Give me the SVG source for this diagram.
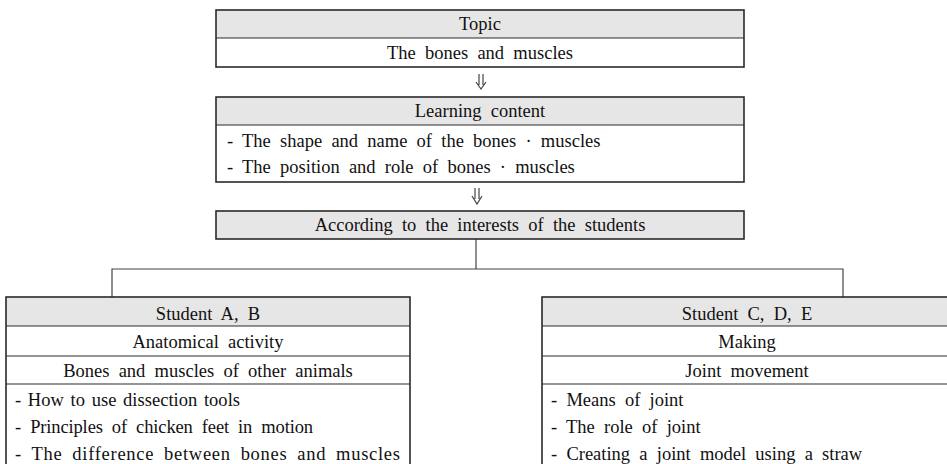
<svg xmlns="http://www.w3.org/2000/svg" width="947" height="464" viewBox="0 0 947 464">
<style>
  .t { font-family: "Liberation Serif", "Times New Roman", serif; font-size: 18.5px; fill: #111; word-spacing: 4.6px; }
  .c { text-anchor: middle; }
  .hd { fill: #e6e6e6; stroke: none; }
  .box { fill: none; stroke: #2a2a2a; stroke-width: 1.6; }
  .div { stroke: #2a2a2a; stroke-width: 1.2; }
  .conn { fill: none; stroke: #444; stroke-width: 1.2; }
</style>
<rect width="947" height="464" fill="#fff"/>
<g id="connectors">
  <path class="conn" d="M479,74 V85 M483,74 V85 M476,82 L481,89 L486,82"/>
  <path class="conn" d="M475,188 V199 M479,188 V199 M472,196 L477,204 L482,196"/>
  <path class="conn" d="M476,239 V269 M112,297 V269 H843 V297"/>
</g>
<g id="topic">
  <rect class="hd" x="216" y="10" width="528" height="28"/>
  <line class="div" x1="216" y1="38" x2="744" y2="38"/>
  <rect class="box" x="216" y="10" width="528" height="57"/>
  <text class="t c" x="480" y="30">Topic</text>
  <text class="t c" x="480" y="59">The bones and muscles</text>
</g>
<g id="learning">
  <rect class="hd" x="216" y="97" width="528" height="28"/>
  <line class="div" x1="216" y1="125" x2="744" y2="125"/>
  <rect class="box" x="216" y="97" width="528" height="85"/>
  <text class="t c" x="480" y="117">Learning content</text>
  <text class="t" x="227" y="147">- The shape and name of the bones · muscles</text>
  <text class="t" x="227" y="173">- The position and role of bones · muscles</text>
</g>
<g id="interests">
  <rect class="hd" x="216" y="211" width="528" height="28"/>
  <rect class="box" x="216" y="211" width="528" height="28"/>
  <text class="t c" x="480" y="231">According to the interests of the students</text>
</g>
<g id="studentAB">
  <rect class="hd" x="6" y="297" width="404" height="29"/>
  <line class="div" x1="6" y1="326" x2="410" y2="326"/>
  <line class="div" x1="6" y1="356" x2="410" y2="356"/>
  <line class="div" x1="6" y1="384" x2="410" y2="384"/>
  <rect class="box" x="6" y="297" width="404" height="180"/>
  <text class="t c" x="208" y="320">Student A, B</text>
  <text class="t c" x="208" y="348">Anatomical activity</text>
  <text class="t c" x="208" y="377">Bones and muscles of other animals</text>
  <text class="t" x="15" y="406" style="word-spacing:2px" textLength="225" lengthAdjust="spacing">- How to use dissection tools</text>
  <text class="t" x="15" y="433" textLength="298" lengthAdjust="spacing">- Principles of chicken feet in motion</text>
  <text class="t" x="15" y="460" textLength="385" lengthAdjust="spacing">- The difference between bones and muscles</text>
</g>
<g id="studentCDE">
  <rect class="hd" x="542" y="297" width="411" height="29"/>
  <line class="div" x1="542" y1="326" x2="953" y2="326"/>
  <line class="div" x1="542" y1="356" x2="953" y2="356"/>
  <line class="div" x1="542" y1="384" x2="953" y2="384"/>
  <rect class="box" x="542" y="297" width="411" height="180"/>
  <text class="t c" x="747" y="320">Student C, D, E</text>
  <text class="t c" x="747" y="348">Making</text>
  <text class="t c" x="747" y="377">Joint movement</text>
  <text class="t" x="551" y="406">- Means of joint</text>
  <text class="t" x="551" y="433">- The role of joint</text>
  <text class="t" x="551" y="460">- Creating a joint model using a straw</text>
</g>
</svg>
